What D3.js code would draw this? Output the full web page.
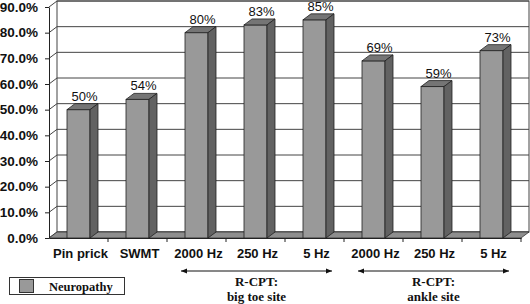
<!DOCTYPE html>
<html>
<head>
<meta charset="utf-8">
<script src="https://cdn.jsdelivr.net/npm/d3@7"></script>
<style>
    body { margin: 0; background: #fff; }
    svg { display: block; }
</style>
</head>
<body>
<svg id="chart" width="530" height="304"></svg>
<script>
// chart values
const categories = ["Pin prick", "SWMT", "2000 Hz", "250 Hz", "5 Hz", "2000 Hz", "250 Hz", "5 Hz"];
const neuropathy = [50, 54, 80, 83, 85, 69, 59, 73];
const yTicks = [0, 10, 20, 30, 40, 50, 60, 70, 80, 90];
const groupTitles = [["R-CPT:", "big toe site"], ["R-CPT:", "ankle site"]];
const groupFirst = [2, 5];
const groupLast = [4, 7];
const seriesName = "Neuropathy";

const svg = d3.select("#chart");
const dx = 8, dy = -6;          // depth offset of the 3d look
const barW = 23;

const x = d3.scaleBand()
    .domain(d3.range(categories.length))
    .range([49, 521]);
const y = d3.scaleLinear()
    .domain([0, 90])
    .range([238, 7]);

const sans = "Arial, 'Liberation Sans', sans-serif";
const serif = "'Times New Roman', 'Liberation Serif', serif";

// back wall
const x0 = x.range()[0], x1 = x.range()[1];
svg.append("rect")
    .attr("x", x0 + dx).attr("y", y(90) + dy)
    .attr("width", x1 - x0).attr("height", y(0) - y(90))
    .attr("fill", "#fff").attr("stroke", "#444").attr("stroke-width", 1);

// gridlines on back wall and side wall
const grid = svg.append("g").attr("stroke", "#444").attr("stroke-width", 1).attr("fill", "none");
yTicks.forEach(t => {
    grid.append("path")
        .attr("d", "M" + x0 + "," + y(t) + "L" + (x0 + dx) + "," + (y(t) + dy) + "L" + (x1 + dx) + "," + (y(t) + dy));
});

// floor
svg.append("path")
    .attr("d", "M" + x0 + "," + y(0) + "L" + x1 + "," + y(0) + "L" + (x1 + dx) + "," + (y(0) + dy) + "L" + (x0 + dx) + "," + (y(0) + dy) + "Z")
    .attr("fill", "#8e8e8e").attr("stroke", "#333").attr("stroke-width", 0.8);

// bars
const bars = svg.append("g").selectAll("g")
    .data(neuropathy)
    .enter()
    .append("g");

const bx = (i) => x(i) + x.bandwidth() / 2 - barW / 2;

bars.append("rect")
    .attr("x", (d, i) => bx(i))
    .attr("y", (d) => y(d))
    .attr("width", barW)
    .attr("height", (d) => y(0) - y(d))
    .attr("fill", "#999")
    .attr("stroke", "#222").attr("stroke-width", 0.8);

bars.append("path")
    .attr("d", (d, i) => {
        let l = bx(i), r = l + barW, t = y(d);
        return "M" + l + "," + t + "L" + (l + dx) + "," + (t + dy) + "L" + (r + dx) + "," + (t + dy) + "L" + r + "," + t + "Z";
    })
    .attr("fill", "#757575")
    .attr("stroke", "#222").attr("stroke-width", 0.8);

bars.append("path")
    .attr("d", (d, i) => {
        let r = bx(i) + barW, t = y(d), b = y(0);
        return "M" + r + "," + t + "L" + (r + dx) + "," + (t + dy) + "L" + (r + dx) + "," + (b + dy) + "L" + r + "," + b + "Z";
    })
    .attr("fill", "#626262")
    .attr("stroke", "#222").attr("stroke-width", 0.8);

bars.append("text")
    .attr("x", (d, i) => x(i) + x.bandwidth() / 2 + 6)
    .attr("y", (d) => y(d) + dy - 3)
    .attr("text-anchor", "middle")
    .attr("font-family", sans)
    .attr("font-size", 13)
    .attr("fill", "#111")
    .text((d) => d + "%");

// y axis
const yAxis = svg.append("g")
    .attr("transform", "translate(" + x0 + ",0)")
    .call(d3.axisLeft(y).tickValues(yTicks).tickSize(4).tickSizeOuter(0).tickFormat((d) => d.toFixed(1) + "%"));
yAxis.select(".domain").attr("stroke", "#222");
yAxis.selectAll(".tick line").attr("stroke", "#222");
yAxis.selectAll("text")
    .attr("x", -11)
    .attr("font-family", sans)
    .attr("font-size", 13.5)
    .attr("font-weight", "bold")
    .attr("fill", "#111");

// x axis
const xAxis = svg.append("g")
    .attr("transform", "translate(0," + y(0) + ")")
    .call(d3.axisBottom(x).tickSize(0).tickFormat((i) => categories[i]));
xAxis.select(".domain").attr("stroke", "#222");
xAxis.selectAll("text")
    .attr("y", 11)
    .attr("dy", "0.71em")
    .attr("dx", 2)
    .attr("font-family", sans)
    .attr("font-size", 13)
    .attr("font-weight", "bold")
    .attr("fill", "#111");
xAxis.selectAll(".sep")
    .data(d3.range(1, categories.length + 1))
    .enter()
    .append("line")
    .attr("x1", (i) => x0 + i * x.step()).attr("x2", (i) => x0 + i * x.step())
    .attr("y1", 0).attr("y2", 4)
    .attr("stroke", "#222");

// group annotations
const defs = svg.append("defs");
["start", "end"].forEach(k => {
    defs.append("marker")
        .attr("id", "arr-" + k)
        .attr("viewBox", "0 0 10 10")
        .attr("refX", k === "end" ? 10 : 0).attr("refY", 5)
        .attr("markerWidth", 8).attr("markerHeight", 6)
        .attr("orient", "auto")
        .append("path")
        .attr("d", k === "end" ? "M0,1L10,5L0,9Z" : "M10,1L0,5L10,9Z")
        .attr("fill", "#111");
});

groupTitles.forEach((lines, g) => {
    let a = x(groupFirst[g]) + 14;
    let b = x(groupLast[g]) + x.bandwidth() - 12;
    svg.append("line")
        .attr("x1", a).attr("x2", b).attr("y1", 271).attr("y2", 271)
        .attr("stroke", "#111").attr("stroke-width", 1)
        .attr("marker-start", "url(#arr-start)")
        .attr("marker-end", "url(#arr-end)");
    lines.forEach((s, k) => {
        svg.append("text")
            .attr("x", (a + b) / 2)
            .attr("y", 286 + k * 15)
            .attr("text-anchor", "middle")
            .attr("font-family", serif)
            .attr("font-size", 13)
            .attr("font-weight", "bold")
            .attr("fill", "#111")
            .text(s);
    });
});

// legend
const legend = svg.append("g");
legend.append("rect")
    .attr("x", 9.5).attr("y", 277.5).attr("width", 115).attr("height", 17)
    .attr("fill", "#fff").attr("stroke", "#333");
legend.append("rect")
    .attr("x", 19.5).attr("y", 279.5).attr("width", 14).attr("height", 13)
    .attr("fill", "#999").attr("stroke", "#333");
legend.append("text")
    .attr("x", 49).attr("y", 291)
    .attr("font-family", serif)
    .attr("font-size", 12.5)
    .attr("font-weight", "bold")
    .attr("fill", "#111")
    .text(seriesName);
</script>
</body>
</html>
